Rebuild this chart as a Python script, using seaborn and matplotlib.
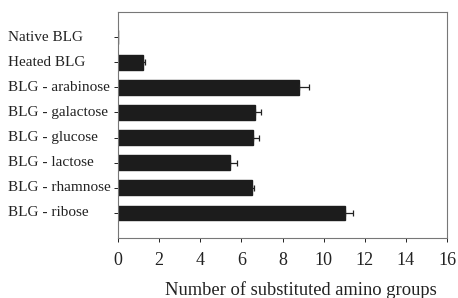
import numpy as np
import pandas as pd
import matplotlib
matplotlib.use("Agg")
import matplotlib.pyplot as plt
import seaborn as sns

# values
samples = ["Native BLG", "Heated BLG", "BLG - arabinose", "BLG - galactose",
           "BLG - glucose", "BLG - lactose", "BLG - rhamnose", "BLG - ribose"]
groups = [0.0, 1.23, 8.79, 6.67, 6.58, 5.47, 6.5, 11.05]
errors = [0.0, 0.1, 0.5, 0.28, 0.3, 0.33, 0.1, 0.37]
xticks = [0, 2, 4, 6, 8, 10, 12, 14, 16]

sns.set_style("ticks")
plt.rcParams['font.family'] = ['Liberation Serif', 'DejaVu Serif']

df = pd.DataFrame({"sample": samples, "groups": groups})

fig = plt.figure(figsize=(4.58, 2.98), dpi=100)
ax = fig.add_axes([118 / 458, 1 - 238 / 298, (447 - 118) / 458, (238 - 12) / 298])

sns.barplot(data=df, x="groups", y="sample", order=samples, color="#1c1c1c",
            saturation=1, width=0.58, errorbar=None, ax=ax)
for b in ax.patches:
    b.set_edgecolor("#1c1c1c")

# only the upper half of the error bar is drawn
ypos = np.arange(len(samples))
has_err = np.array(errors) > 0
ax.errorbar(np.array(groups)[has_err], ypos[has_err],
            xerr=[np.zeros(has_err.sum()), np.array(errors)[has_err]],
            fmt="none", ecolor="#222222", elinewidth=0.9, capsize=2.5, capthick=0.9)

ax.set_xlim(0, 16)
ax.set_ylim(8, -1)
ax.set_xticks(xticks)
ax.set_xticklabels([str(t) for t in xticks], fontsize=13)
ax.tick_params(axis="y", length=3, width=0.7, colors="#222222", labelleft=False)
ax.tick_params(axis="x", length=3, width=0.7, pad=7, colors="#222222")
ax.set_ylabel("")
ax.set_xlabel("")
for s in ax.spines.values():
    s.set_visible(True)
    s.set_linewidth(0.8)
    s.set_color("#777777")

# category names are left aligned in the reference
for i, name in enumerate(samples):
    ax.text(-110 / 329, i, name, transform=ax.get_yaxis_transform(),
            ha="left", va="center", fontsize=11, color="#222222")

fig.text(301 / 458, 1 - 290 / 298, "Number of substituted amino groups",
         ha="center", va="center", fontsize=13.3, color="#222222")

fig.savefig("out.png", dpi=100)
